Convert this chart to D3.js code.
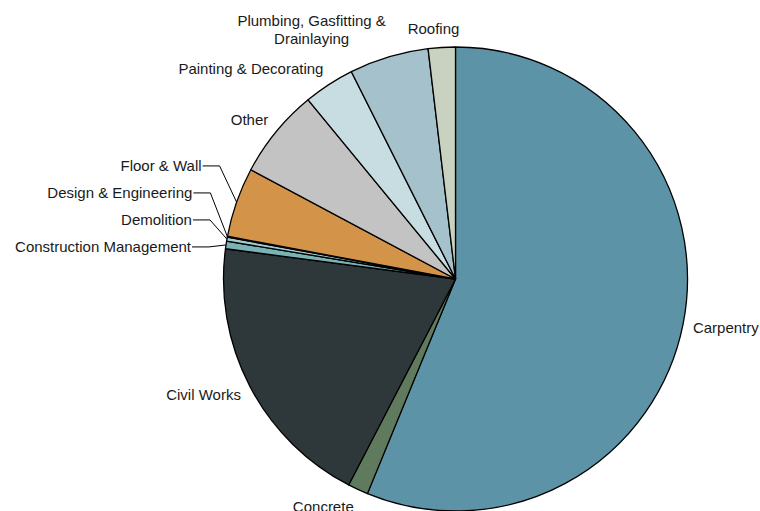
<!DOCTYPE html>
<html><head><meta charset="utf-8">
<script src="https://cdn.jsdelivr.net/npm/d3@7"></script>
<style>
body{margin:0;background:#fff}
svg text{font-family:"Liberation Sans",Arial,sans-serif;font-size:15px;fill:#1a1a1a}
</style>
</head><body><svg id="chart" width="760" height="511"></svg>
<script>
const categories = ["Carpentry","Concrete","Civil Works","Construction Management","Demolition","Design & Engineering","Floor & Wall","Other","Painting & Decorating","Plumbing, Gasfitting & Drainlaying","Roofing"];
const values = [56.3, 1.42, 19.5, 0.53, 0.28, 0.06, 4.86, 6.25, 3.56, 5.53, 1.89];
const colors = ["#5d93a6","#5f7a5d","#2e383b","#79b3b5","#9fcccc","#b3d6d6","#d39449","#c3c3c3","#c8dde2","#a4c1cc","#c9d2c0"];

const W = 760, H = 511, cx = 455.5, cy = 279, R = 232, gap = 10;
const lineH = 18, maxLabelW = 160;
const svg = d3.select("#chart");
const g = svg.append("g").attr("transform", `translate(${cx},${cy})`);

const pie = d3.pie().sort(null).value(d => d)(values);
const arc = d3.arc().innerRadius(0).outerRadius(R);
const labelArc = d3.arc().innerRadius(R + gap).outerRadius(R + gap);
const edgeArc = d3.arc().innerRadius(R).outerRadius(R);

g.selectAll("path.slice").data(pie).join("path")
  .attr("class","slice")
  .attr("d", arc)
  .attr("fill", (d,i) => colors[i])
  .attr("stroke", "#000").attr("stroke-width", 1.3).attr("stroke-linejoin","round");

const total = d3.sum(values);
const lg = svg.append("g");
const clamp = v => Math.max(-1, Math.min(1, v));

const labels = pie.map((d, i) => {
  const t = lg.append("text");
  const words = categories[i].split(" ");
  let lines = [], cur = "";
  const probe = lg.append("text");
  words.forEach(w => {
    const test = cur ? cur + " " + w : w;
    probe.text(test);
    if (probe.node().getComputedTextLength() > maxLabelW && cur) { lines.push(cur); cur = w; }
    else cur = test;
  });
  lines.push(cur);
  probe.remove();
  let w = 0;
  lines.forEach(l => { const p = lg.append("text").text(l); w = Math.max(w, p.node().getComputedTextLength()); p.remove(); });
  const a = (d.startAngle + d.endAngle) / 2;
  const ux = Math.sin(a), uy = -Math.cos(a);
  const P = labelArc.centroid(d);
  const E = edgeArc.centroid(d);
  const h = lines.length * lineH;
  const x = cx + P[0] + (w/2) * clamp(5*ux);
  const y = cy + P[1] + (h/2) * clamp(uy);
  return {i, t, lines, w, h, x, y, a, E:[cx+E[0], cy+E[1]], callout: values[i]/total < 0.01};
});

function box(L) {
  if (L.callout) return {x0: L.tx - L.w, x1: L.tx, y0: L.y - L.h/2, y1: L.y + L.h/2};
  return {x0: L.x - L.w/2, x1: L.x + L.w/2, y0: L.y - L.h/2, y1: L.y + L.h/2};
}
function layoutCallouts() {
  const cs = labels.filter(L => L.callout).sort((p,q) => p.a - q.a);
  if (!cs.length) return;
  const y0 = cs[0].E[1] + 2;
  cs.forEach((L, k) => { L.y = y0 - 27*k; L.tx = L.E[0] - 35; });
}
layoutCallouts();
let changed = true;
while (changed) {
  changed = false;
  const cs = labels.filter(L => L.callout).map(box);
  labels.filter(L => !L.callout).forEach(L => {
    const b = box(L);
    if (cs.some(c => b.x0 < c.x1 && b.x1 > c.x0 && b.y0 < c.y1 && b.y1 > c.y0)) { L.callout = true; changed = true; }
  });
  if (changed) layoutCallouts();
}

labels.forEach(L => {
  const n = L.lines.length;
  if (L.callout) {
    L.t.attr("text-anchor","end").attr("x", L.tx).attr("y", L.y + 5.4).text(L.lines.join(" "));
    const elbow = L.tx + 18;
    lg.append("path")
      .attr("d", d3.line()([[L.tx + 1, L.y], [elbow, L.y], L.E]))
      .attr("fill","none").attr("stroke","#000").attr("stroke-width",1);
  } else {
    L.t.attr("text-anchor","middle");
    L.lines.forEach((l, k) => {
      L.t.append("tspan").attr("x", L.x).attr("y", L.y - (n-1)/2*lineH + k*lineH + 5.4).text(l);
    });
  }
});
</script></body></html>
